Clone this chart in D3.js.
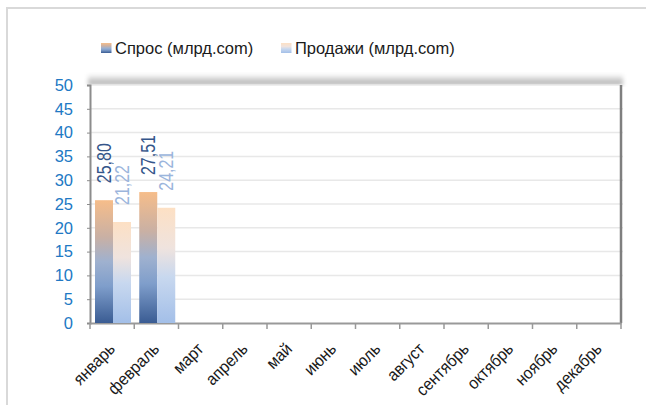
<!DOCTYPE html>
<html>
<head>
<meta charset="utf-8">
<script src="https://cdn.jsdelivr.net/npm/d3@7"></script>
<style>
  body { margin: 0; background: #fff; }
  text { font-family: "Liberation Sans", Arial, sans-serif; }
</style>
</head>
<body>
<svg class="chart" width="646" height="405"></svg>
<script>
const months = ['январь', 'февраль', 'март', 'апрель', 'май', 'июнь', 'июль', 'август', 'сентябрь', 'октябрь', 'ноябрь', 'декабрь'];
const seriesNames = ['Спрос (млрд.com)', 'Продажи (млрд.com)'];
const demand = [25.80, 27.51, null, null, null, null, null, null, null, null, null, null];
const sales = [21.22, 24.21, null, null, null, null, null, null, null, null, null, null];
const yTicks = [0, 5, 10, 15, 20, 25, 30, 35, 40, 45, 50];

const chart = d3.select('.chart');
const width = +chart.attr('width');
const height = +chart.attr('height');
const margin = { top: 85, right: 25, bottom: 82, left: 90 };
const innerWidth = width - margin.left - margin.right;
const innerHeight = height - margin.top - margin.bottom;

const defs = chart.append('defs');
const grad = (id, stops) => {
    const lg = defs.append('linearGradient').attr('id', id)
        .attr('x1', 0).attr('y1', 0).attr('x2', 0).attr('y2', 1);
    stops.forEach(s => lg.append('stop').attr('offset', s[0]).attr('stop-color', s[1]));
};
grad('gDemand', [[0, '#f6bd8a'], [0.3, '#c9b0a4'], [0.5, '#9fb1cf'], [0.7, '#7f9ecb'], [1, '#3a5c93']]);
grad('gSales', [[0, '#fde0c4'], [0.35, '#efe3de'], [0.6, '#c8d8ef'], [1, '#a3bfe8']]);
grad('gShadow', [[0, '#ffffff'], [1, '#a6a6a6']]);
defs.append('filter').attr('id', 'blur').append('feGaussianBlur').attr('stdDeviation', 2);

// outer frame
chart.append('rect')
    .attr('x', 7).attr('y', 8).attr('width', 660).attr('height', 420)
    .attr('fill', 'none').attr('stroke', '#d9d9d9').attr('stroke-width', 2);

const xScale = d3.scaleBand().domain(months).range([0, innerWidth]);
const inner = d3.scaleBand().domain(seriesNames).range([0, 36]);
const yScale = d3.scaleLinear().domain([0, 50]).range([innerHeight, 0]);

const g = chart.append('g')
    .attr('transform', `translate(${margin.left},${margin.top})`);

// top shadow of the 3D plot area
g.append('rect')
    .attr('x', -2).attr('y', -11).attr('width', innerWidth + 4).attr('height', 11)
    .attr('fill', 'url(#gShadow)').attr('filter', 'url(#blur)');
g.append('rect')
    .attr('x', 0).attr('y', 0).attr('width', innerWidth).attr('height', innerHeight)
    .attr('fill', '#fff');

// gridlines
g.append('g').selectAll('line').data(yTicks.slice(1))
    .enter().append('line')
    .attr('x1', 0).attr('x2', innerWidth + 2)
    .attr('y1', d => yScale(d)).attr('y2', d => yScale(d))
    .attr('stroke', '#e8e8e8').attr('stroke-width', 1.5);

// right wall
g.append('line')
    .attr('x1', innerWidth).attr('x2', innerWidth)
    .attr('y1', 0).attr('y2', innerHeight)
    .attr('stroke', '#7f7f7f').attr('stroke-width', 2.5);

// y axis
const yAxis = g.append('g')
    .call(d3.axisLeft(yScale).tickValues(yTicks).tickSize(3).tickPadding(14));
yAxis.select('.domain').attr('stroke', '#8c8c8c').attr('stroke-width', 2);
yAxis.selectAll('.tick line').attr('stroke', '#8c8c8c');
yAxis.selectAll('text').attr('fill', '#2179c4').attr('font-size', 16.5);

// x axis
const xAxis = g.append('g')
    .attr('transform', `translate(0,${innerHeight})`)
    .call(d3.axisBottom(xScale).tickSize(0).tickFormat(''));
xAxis.select('.domain').attr('stroke', '#999').attr('stroke-width', 2);
g.append('g').selectAll('line').data(d3.range(months.length + 1))
    .enter().append('line')
    .attr('x1', d => d * xScale.bandwidth()).attr('x2', d => d * xScale.bandwidth())
    .attr('y1', innerHeight).attr('y2', innerHeight + 6)
    .attr('stroke', '#999').attr('stroke-width', 1.5);
g.append('g').selectAll('text').data(months)
    .enter().append('text')
    .attr('transform', d => `translate(${xScale(d) + xScale.bandwidth() / 2 + 4},${innerHeight + 27}) rotate(-45) scale(0.92,1)`)
    .attr('text-anchor', 'end')
    .attr('font-size', 17)
    .attr('fill', '#1a1a1a')
    .text(d => d);

// bars
const series = [
    { name: seriesNames[0], values: demand, fill: 'url(#gDemand)', label: '#34558a' },
    { name: seriesNames[1], values: sales, fill: 'url(#gSales)', label: '#9bb5dc' }
];
const fmt = v => v.toFixed(2).replace('.', ',');
series.forEach(s => {
    const pts = months.map((m, i) => ({ m, v: s.values[i] })).filter(d => d.v != null);
    const x0 = d => xScale(d.m) + 5 + inner(s.name);
    g.append('g').selectAll('rect').data(pts)
        .enter().append('rect')
        .attr('x', x0)
        .attr('y', d => yScale(d.v))
        .attr('width', inner.bandwidth())
        .attr('height', d => innerHeight - yScale(d.v))
        .attr('fill', s.fill);
    g.append('g').selectAll('text').data(pts)
        .enter().append('text')
        .attr('transform', d => `translate(${x0(d) + inner.bandwidth() / 2 + 7},${yScale(d.v) - 17}) rotate(-90) scale(0.82,1)`)
        .attr('font-size', 19.5)
        .attr('fill', s.label)
        .text(d => fmt(d.v));
});

// legend
const legend = chart.append('g').attr('transform', 'translate(101,48)');
const lx = [0, 180];
series.forEach((s, i) => {
    const lg = legend.append('g').attr('transform', `translate(${lx[i]},0)`);
    lg.append('rect').attr('x', 0).attr('y', -5).attr('width', 10.5).attr('height', 10).attr('fill', s.fill);
    lg.append('text').attr('x', 14).attr('dy', '0.35em').attr('font-size', 16.5).attr('fill', '#1a1a1a').text(s.name);
});
</script>
</body>
</html>
